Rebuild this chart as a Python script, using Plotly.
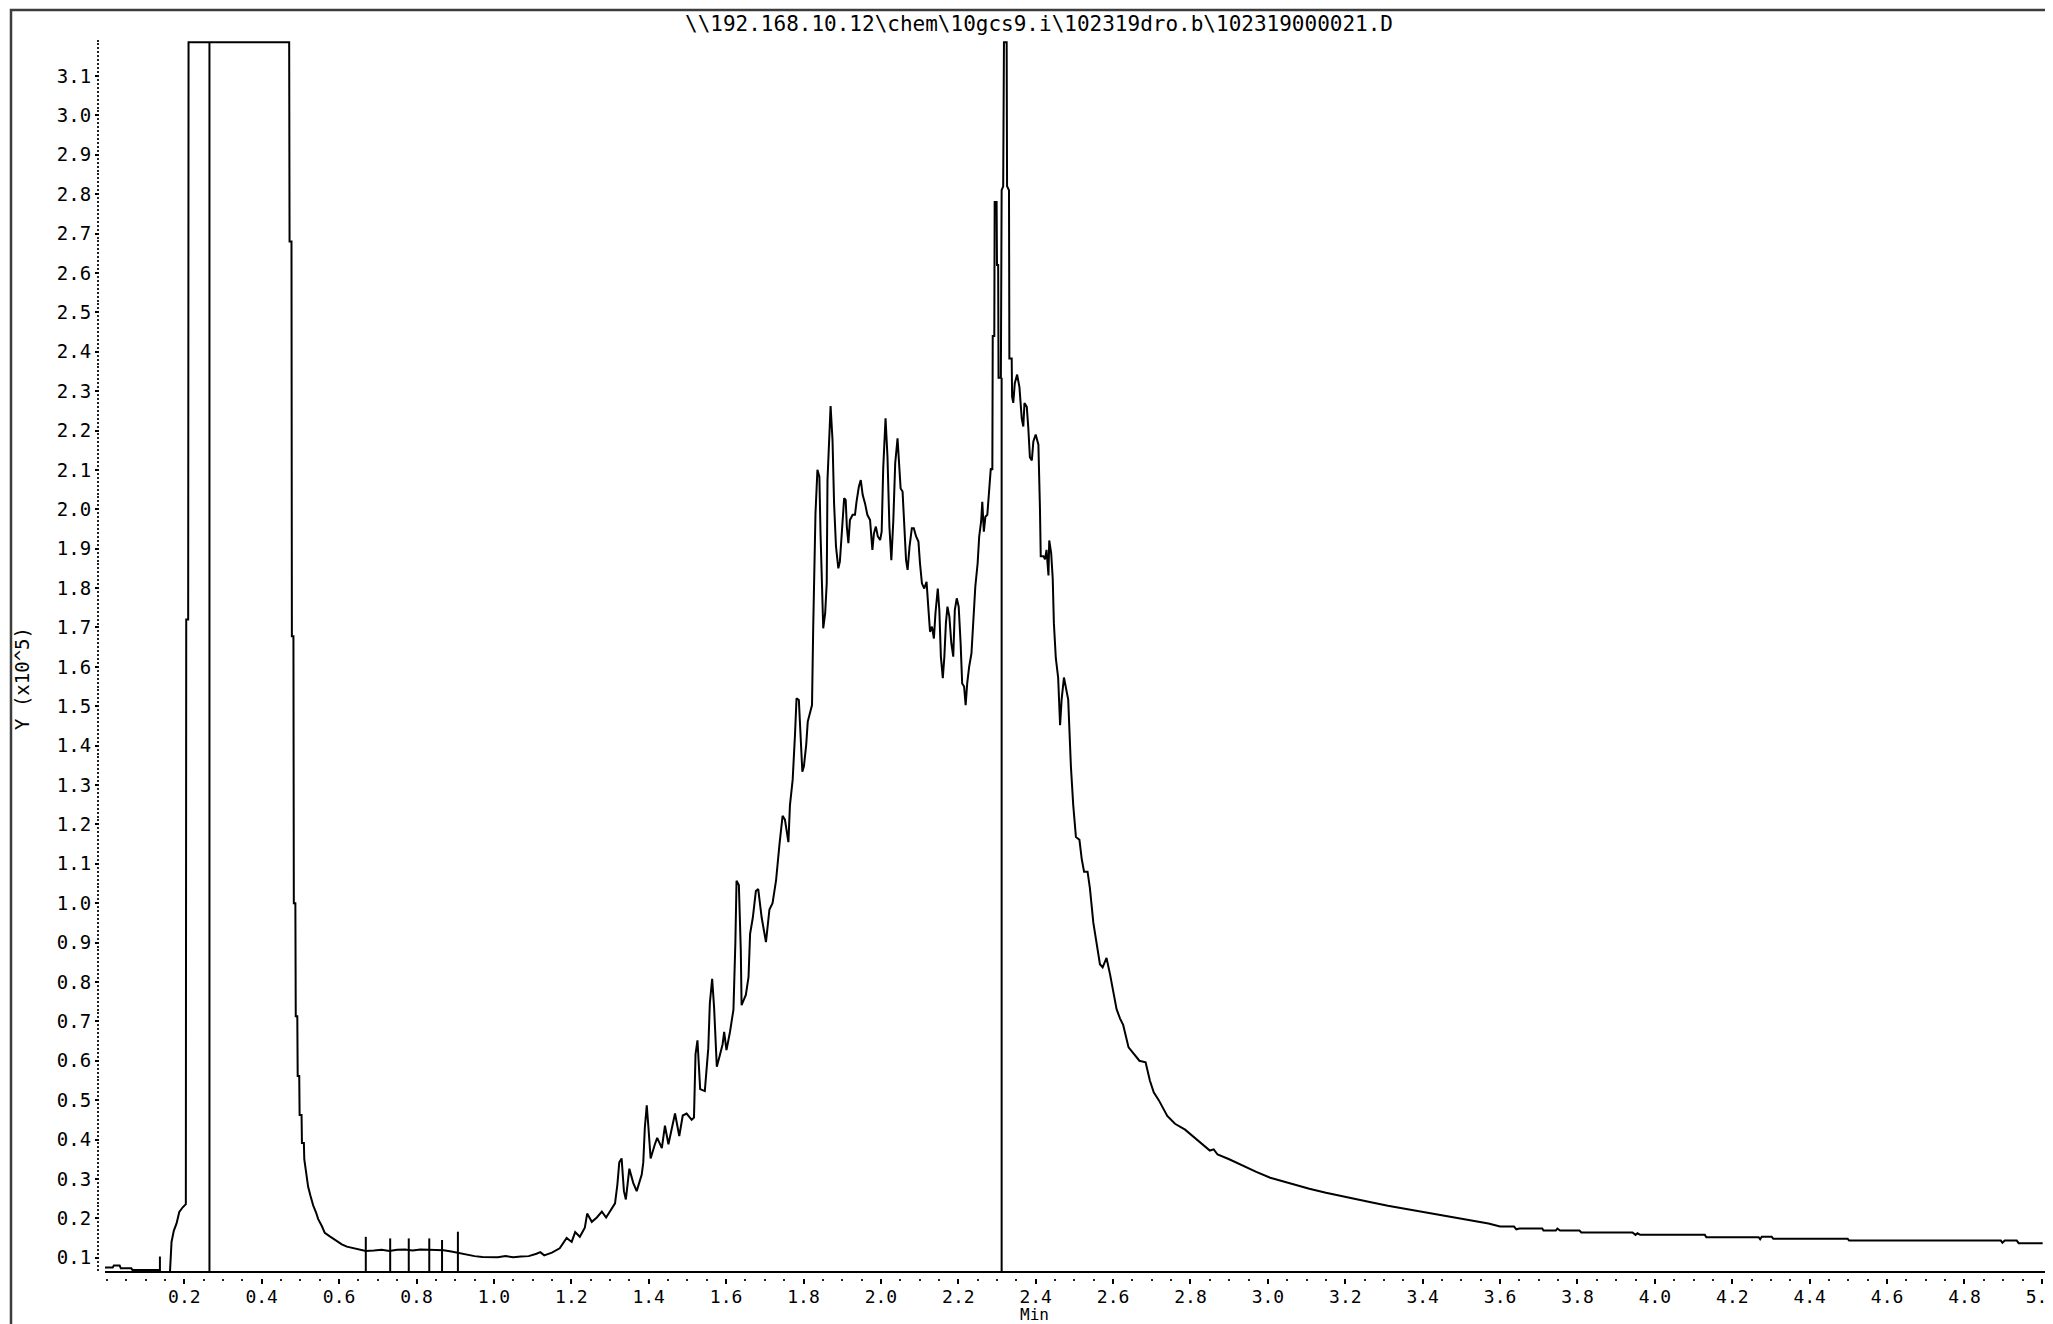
import plotly.graph_objects as go

# ---------------- data (time in min, signal in 1e5 counts) ----------------
start_time = [-0.005, 0.015, 0.018, 0.033, 0.036, 0.063, 0.066, 0.133, 0.137, 0.163]
start_signal = [0.075, 0.075, 0.080, 0.080, 0.073, 0.073, 0.069, 0.069, 0.064, 0.064]

solvent_time = [0.167, 0.173, 0.180, 0.187, 0.196, 0.204, 0.205, 0.210, 0.211,
                0.471, 0.472, 0.477, 0.478, 0.482, 0.483, 0.487, 0.488, 0.492, 0.493,
                0.497, 0.498, 0.503, 0.504, 0.509, 0.510, 0.515, 0.520, 0.526, 0.533,
                0.540, 0.546, 0.555, 0.563, 0.576, 0.594, 0.607, 0.620, 0.637, 0.654]
solvent_signal = [0.140, 0.169, 0.187, 0.216, 0.228, 0.236, 1.720, 1.720, 3.186,
                  3.186, 2.680, 2.680, 1.678, 1.678, 1.000, 1.000, 0.713, 0.713, 0.561,
                  0.561, 0.462, 0.462, 0.391, 0.391, 0.350, 0.310, 0.280, 0.257, 0.233,
                  0.216, 0.198, 0.181, 0.163, 0.154, 0.142, 0.134, 0.128, 0.124, 0.119]

baseline_time = [0.669, 0.69, 0.71, 0.73, 0.75, 0.77, 0.79, 0.81, 0.83, 0.85, 0.87,
                 0.89, 0.91, 0.93, 0.95, 0.97, 0.99, 1.01, 1.03, 1.05, 1.07, 1.09,
                 1.11, 1.12, 1.13, 1.15, 1.17]
baseline_signal = [0.117, 0.118, 0.120, 0.117, 0.120, 0.121, 0.118, 0.121, 0.120, 0.119, 0.119,
                   0.116, 0.112, 0.108, 0.104, 0.102, 0.101, 0.101, 0.104, 0.101, 0.103, 0.104,
                   0.110, 0.114, 0.106, 0.113, 0.124]

rise_time = [1.188, 1.201, 1.210, 1.222, 1.235, 1.241, 1.253, 1.266, 1.279, 1.290,
             1.304, 1.313, 1.319, 1.324, 1.330, 1.336, 1.341, 1.350, 1.360, 1.369,
             1.382, 1.386, 1.390, 1.395, 1.399, 1.405, 1.416, 1.422, 1.434, 1.442,
             1.451, 1.460, 1.468, 1.479, 1.488, 1.498, 1.511, 1.517, 1.521, 1.526,
             1.533, 1.545, 1.554, 1.558, 1.564, 1.569, 1.576, 1.583, 1.591, 1.595,
             1.601, 1.610, 1.619, 1.624, 1.627, 1.633, 1.638, 1.640, 1.651, 1.658,
             1.662, 1.669, 1.677, 1.683, 1.692, 1.703, 1.712, 1.720, 1.729, 1.738,
             1.746, 1.752, 1.761]
rise_signal = [0.150, 0.140, 0.165, 0.153, 0.176, 0.212, 0.191, 0.202, 0.217, 0.202,
               0.222, 0.238, 0.285, 0.342, 0.352, 0.269, 0.248, 0.326, 0.290, 0.269,
               0.311, 0.342, 0.430, 0.487, 0.435, 0.352, 0.388, 0.404, 0.378, 0.435,
               0.388, 0.430, 0.466, 0.409, 0.461, 0.466, 0.450, 0.456, 0.616, 0.652,
               0.528, 0.523, 0.632, 0.746, 0.808, 0.735, 0.585, 0.611, 0.642, 0.673,
               0.627, 0.673, 0.730, 0.901, 1.057, 1.046, 0.880, 0.741, 0.767, 0.813,
               0.922, 0.963, 1.031, 1.036, 0.963, 0.901, 0.984, 1.000, 1.057, 1.150,
               1.222, 1.212, 1.155]

hump_time = [1.765, 1.772, 1.778, 1.782, 1.788, 1.793, 1.797, 1.801, 1.807, 1.811,
             1.817, 1.822, 1.825, 1.831, 1.836, 1.841, 1.844, 1.849, 1.851, 1.856,
             1.860, 1.862, 1.867, 1.870, 1.875, 1.879, 1.884, 1.890, 1.894, 1.899,
             1.905, 1.909, 1.912, 1.916, 1.920, 1.927, 1.933, 1.937, 1.943, 1.948,
             1.953, 1.959, 1.965, 1.972, 1.978, 1.982, 1.987, 1.992, 1.998, 2.002,
             2.006, 2.012, 2.017, 2.022, 2.027, 2.032, 2.037, 2.043, 2.047, 2.051,
             2.056, 2.061, 2.065, 2.069, 2.074, 2.080, 2.085, 2.091, 2.097, 2.101,
             2.106, 2.112, 2.118, 2.123, 2.127, 2.132, 2.137, 2.141, 2.147, 2.151,
             2.155, 2.160, 2.164, 2.168, 2.172, 2.177, 2.182, 2.187, 2.191, 2.196,
             2.201, 2.206, 2.210, 2.215, 2.219, 2.223, 2.228, 2.234, 2.239, 2.244,
             2.250, 2.254, 2.259, 2.262, 2.266, 2.270, 2.275, 2.279, 2.284]
hump_signal = [1.249, 1.313, 1.427, 1.520, 1.516, 1.427, 1.334, 1.347, 1.402, 1.461,
               1.482, 1.503, 1.694, 1.990, 2.100, 2.083, 1.939, 1.753, 1.698, 1.736,
               1.812, 2.074, 2.176, 2.262, 2.176, 2.015, 1.905, 1.850, 1.867, 1.956,
               2.028, 2.024, 1.956, 1.914, 1.973, 1.986, 1.986, 2.019, 2.057, 2.074,
               2.036, 2.015, 1.986, 1.973, 1.897, 1.939, 1.956, 1.931, 1.922, 1.943,
               2.104, 2.231, 2.134, 1.956, 1.871, 1.969, 2.117, 2.180, 2.125, 2.053,
               2.045, 1.956, 1.871, 1.846, 1.905, 1.952, 1.952, 1.931, 1.918, 1.863,
               1.812, 1.799, 1.816, 1.744, 1.689, 1.702, 1.672, 1.736, 1.799, 1.744,
               1.626, 1.571, 1.626, 1.711, 1.753, 1.727, 1.660, 1.626, 1.744, 1.774,
               1.753, 1.660, 1.558, 1.550, 1.503, 1.558, 1.600, 1.634, 1.736, 1.804,
               1.863, 1.931, 1.969, 2.019, 1.943, 1.981, 1.986, 2.049, 2.104]

peak_time = [2.288, 2.289, 2.293, 2.294, 2.299, 2.300, 2.303, 2.304, 2.310, 2.312,
             2.316, 2.318, 2.325, 2.326, 2.331, 2.332, 2.338, 2.339, 2.342, 2.346,
             2.352, 2.358, 2.364, 2.368, 2.371, 2.377, 2.381, 2.385, 2.390, 2.394,
             2.400, 2.407, 2.411, 2.413, 2.420, 2.424, 2.428, 2.433, 2.435, 2.440,
             2.444, 2.447, 2.452, 2.458, 2.463, 2.467, 2.473, 2.478, 2.484, 2.491,
             2.497, 2.504, 2.513, 2.519, 2.525, 2.534, 2.540, 2.549, 2.557, 2.566,
             2.573, 2.583, 2.592, 2.601, 2.609, 2.618, 2.626]
peak_signal = [2.100, 2.440, 2.440, 2.780, 2.780, 2.620, 2.620, 2.334, 2.334, 2.810,
               2.820, 3.186, 3.186, 2.820, 2.810, 2.383, 2.383, 2.286, 2.270, 2.320,
               2.342, 2.310, 2.230, 2.210, 2.270, 2.260, 2.205, 2.132, 2.124, 2.172,
               2.190, 2.164, 2.002, 1.881, 1.881, 1.873, 1.897, 1.832, 1.921, 1.889,
               1.824, 1.711, 1.622, 1.573, 1.452, 1.517, 1.573, 1.549, 1.517, 1.347,
               1.249, 1.168, 1.161, 1.112, 1.080, 1.080, 1.039, 0.950, 0.901, 0.845,
               0.837, 0.861, 0.820, 0.772, 0.731, 0.707, 0.691]

tail_time = [2.640, 2.655, 2.668, 2.684, 2.695, 2.705, 2.718, 2.740, 2.760, 2.786,
             2.810, 2.830, 2.850, 2.860, 2.870, 2.900, 2.938, 2.970, 3.006, 3.050,
             3.107, 3.150, 3.208, 3.260, 3.310, 3.380, 3.445, 3.520, 3.570,
             3.600, 3.636, 3.642, 3.650, 3.709, 3.712, 3.744, 3.748, 3.755, 3.805,
             3.810, 3.942, 3.950, 3.955, 3.962, 4.129, 4.133, 4.268, 4.272, 4.276,
             4.302, 4.306, 4.498, 4.502, 4.894, 4.898, 4.904, 4.935, 4.940, 5.002]
tail_signal = [0.634, 0.615, 0.600, 0.596, 0.550, 0.520, 0.500, 0.460, 0.440, 0.425,
               0.405, 0.390, 0.372, 0.375, 0.362, 0.350, 0.332, 0.318, 0.303, 0.290,
               0.275, 0.265, 0.252, 0.242, 0.232, 0.220, 0.208, 0.196, 0.187,
               0.179, 0.179, 0.172, 0.174, 0.174, 0.169, 0.169, 0.174, 0.169, 0.169,
               0.164, 0.164, 0.158, 0.162, 0.158, 0.158, 0.152, 0.152, 0.147, 0.153,
               0.153, 0.148, 0.148, 0.1435, 0.1435, 0.138, 0.1435, 0.1435, 0.137, 0.137]

# integration / event markers: vertical bars rising from the axis floor
marker_time = [0.137, 0.265, 0.669, 0.732, 0.780, 0.833, 0.866, 0.907, 2.312]
marker_top = [0.103, 3.186, 0.153, 0.149, 0.149, 0.149, 0.145, 0.166, 2.334]

x_tick_vals = [0.2, 0.4, 0.6, 0.8, 1.0, 1.2, 1.4, 1.6, 1.8, 2.0, 2.2, 2.4, 2.6,
               2.8, 3.0, 3.2, 3.4, 3.6, 3.8, 4.0, 4.2, 4.4, 4.6, 4.8, 5.0]
x_tick_text = ["0.2", "0.4", "0.6", "0.8", "1.0", "1.2", "1.4", "1.6", "1.8", "2.0",
               "2.2", "2.4", "2.6", "2.8", "3.0", "3.2", "3.4", "3.6", "3.8", "4.0",
               "4.2", "4.4", "4.6", "4.8", "5.0"]
y_tick_vals = [0.1, 0.2, 0.3, 0.4, 0.5, 0.6, 0.7, 0.8, 0.9, 1.0, 1.1, 1.2, 1.3, 1.4,
               1.5, 1.6, 1.7, 1.8, 1.9, 2.0, 2.1, 2.2, 2.3, 2.4, 2.5, 2.6, 2.7, 2.8,
               2.9, 3.0, 3.1]
y_tick_text = ["%.1f" % v for v in y_tick_vals]

X_RANGE = [-0.0049, 5.0287]
Y_RANGE = [0.0637, 3.1914]

title_text = r"\\192.168.10.12\chem\10gcs9.i\102319dro.b\102319000021.D"

# ---------------- assemble ----------------
segments_t = [start_time, solvent_time, baseline_time, rise_time, hump_time, peak_time, tail_time]
segments_y = [start_signal, solvent_signal, baseline_signal, rise_signal, hump_signal, peak_signal, tail_signal]
time_min, signal = [], []
for ts, ys in zip(segments_t, segments_y):
    assert len(ts) == len(ys), (len(ts), len(ys))
    time_min += ts
    signal += ys

mx, my = [], []
for t, top in zip(marker_time, marker_top):
    mx += [t, t, None]
    my += [Y_RANGE[0], top, None]

FONT = "DejaVu Sans Mono"
OFF = 8                      # the page body margin shifts the figure by 8 px
W, H = 2053 - OFF, 1324 - OFF
ML, MR, MT, MB = 99 - OFF, 0, 40 - OFF, 46
PW, PH = W - ML - MR, H - MT - MB


def px(x):
    """screen x (window pixels) -> paper x"""
    return (x - OFF - ML) / PW


def py(y):
    """screen y (window pixels) -> paper y"""
    return 1 - (y - OFF - MT) / PH


fig = go.Figure()
fig.add_trace(go.Scatter(x=time_min, y=signal, mode="lines",
                         line=dict(color="black", width=2), hoverinfo="skip"))
fig.add_trace(go.Scatter(x=mx, y=my, mode="lines",
                         line=dict(color="black", width=2), hoverinfo="skip"))

fig.update_layout(
    width=W, height=H,
    margin=dict(l=ML, r=MR, t=MT, b=MB, autoexpand=False),
    paper_bgcolor="white", plot_bgcolor="white",
    showlegend=False,
    font=dict(family=FONT, size=19, color="#000"),
    xaxis=dict(
        domain=[6 / PW, 1], anchor="free", position=0,
        range=X_RANGE, showgrid=False, zeroline=False, showline=False,
        tickmode="array", tickvals=x_tick_vals, ticktext=x_tick_text,
        ticks="outside", ticklen=5, tickwidth=1.5, tickcolor="#000",
        tickfont=dict(family=FONT, size=18, color="#000"), ticklabeloverflow="allow",
        ticklabelstandoff=-3,
        minor=dict(ticks="outside", tick0=0.05, dtick=0.05, ticklen=2, tickwidth=1.5, tickcolor="#222"),
        automargin=False,
    ),
    yaxis=dict(
        domain=[6 / PH, 1], anchor="free", position=0,
        range=Y_RANGE, showgrid=False, zeroline=False, showline=False,
        tickmode="array", tickvals=y_tick_vals, ticktext=y_tick_text,
        ticks="outside", ticklen=4, tickwidth=1.5, tickcolor="#000",
        tickfont=dict(family=FONT, size=19, color="#000"), ticklabeloverflow="allow",
        minor=dict(ticks="outside", tick0=0, dtick=0.01, ticklen=2, tickwidth=1.5, tickcolor="#222"),
        automargin=False,
    ),
    shapes=[
        dict(type="line", xref="x domain", yref="y domain", x0=0, x1=1, y0=0, y1=0,
             line=dict(color="black", width=2)),
        dict(type="rect", xref="paper", yref="paper",
             x0=px(11), x1=px(2110), y0=py(10), y1=py(1400),
             line=dict(color="#3c3c3c", width=2.5), fillcolor="rgba(0,0,0,0)", layer="above"),
    ],
    annotations=[
        dict(text=title_text, xref="paper", yref="paper", x=px(1039), y=py(24),
             xanchor="center", yanchor="middle", showarrow=False,
             font=dict(family=FONT, size=21, color="#000")),
        dict(text="Min", xref="paper", yref="paper", x=px(1034), y=py(1314),
             xanchor="center", yanchor="middle", showarrow=False,
             font=dict(family=FONT, size=16, color="#000")),
        dict(text="Y (x10^5)", xref="paper", yref="paper", x=px(22), y=py(679),
             xanchor="center", yanchor="middle", showarrow=False, textangle=-90,
             font=dict(family=FONT, size=19, color="#000")),
    ],
)

fig.write_html("out.html")
